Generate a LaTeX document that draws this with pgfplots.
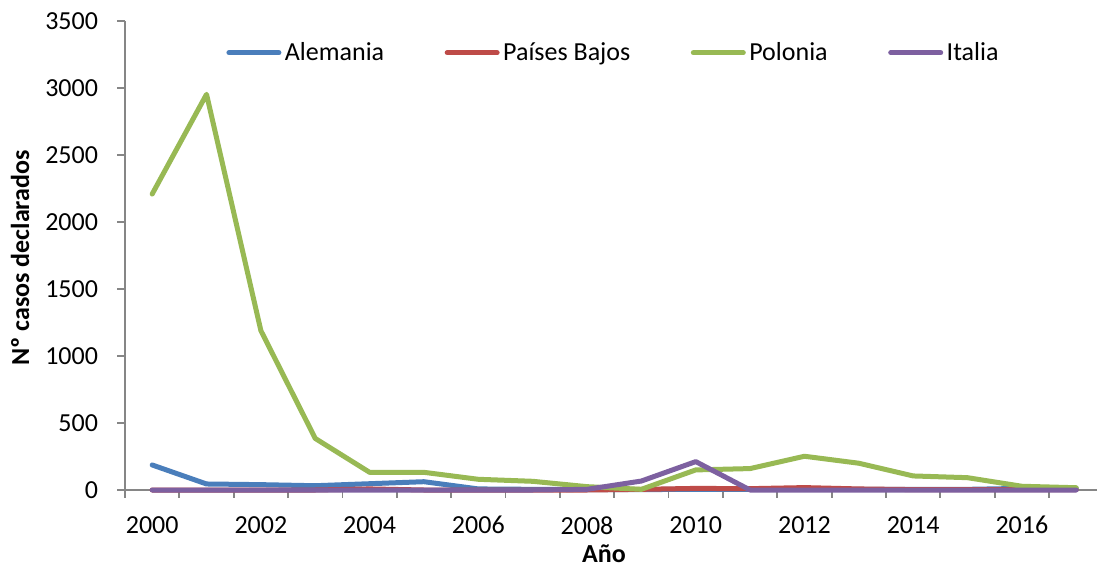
\documentclass[border=0pt]{standalone}
\usepackage{fontspec}
\setmainfont{Carlito}
\usepackage{pgfplots}
\pgfplotsset{compat=1.18}
\definecolor{cAle}{HTML}{4A7EBB}
\definecolor{cPai}{HTML}{BE4B48}
\definecolor{cPol}{HTML}{98B954}
\definecolor{cIta}{HTML}{7D60A0}
\definecolor{axgray}{HTML}{868686}
\begin{document}
\begin{tikzpicture}
\useasboundingbox (0,0) rectangle (548.5pt,284.5pt);
\begin{axis}[
  at={(62.5pt,39.5pt)}, anchor=south west,
  scale only axis, width=489.2pt, height=234.35pt,
  xmin=1999.5, xmax=2017.5, ymin=0, ymax=3500,
  axis x line=bottom, axis y line=left,
  axis line style={draw=axgray, line width=0.9pt, -},
  tick style={draw=axgray, line width=0.9pt},
  tick align=outside, major tick length=3.8pt,
  xtick={1999.5,2000.5,...,2017.5}, xticklabels={},
  extra x ticks={2000,2002,...,2016},
  extra x tick labels={2000,2002,2004,2006,2008,2010,2012,2014,2016},
  extra x tick style={major tick length=0pt},
  ytick={0,500,...,3500},
  /pgf/number format/1000 sep={},
  /pgf/number format/assume math mode=true,
  tick label style={font=\fontsize{13}{15}\selectfont, text=black},
  yticklabel style={anchor=east, inner sep=0pt, xshift=-9.5pt},
  xticklabel style={anchor=north, inner sep=0pt, yshift=-13pt},
  xlabel={\textbf{Año}}, ylabel={\textbf{Nº casos declarados}},
  every axis x label/.style={at={(axis description cs:0.4896,-0.137)}, anchor=center, font=\fontsize{13}{15}\selectfont},
  every axis y label/.style={at={(axis description cs:-0.1073,0.495)}, anchor=center, rotate=90, font=\fontsize{13}{15}\selectfont},
  legend style={at={(axis cs:2001.32,3265)}, anchor=west, draw=none, fill=none,
    inner sep=0pt, outer sep=0pt, nodes={inner sep=0pt, outer sep=0pt},
    font=\fontsize{13}{15}\selectfont,
    /tikz/every odd column/.append style={column sep=0.5pt},
    /tikz/every even column/.append style={column sep=29pt}},
  legend columns=-1,
  legend image code/.code={\path (0pt,0pt) (27.5pt,0pt);\draw[#1, line cap=round] (1.25pt,0pt) -- (26.25pt,0pt);},
  every axis plot/.append style={line width=2.5pt, line join=round, line cap=round, mark=none},
  clip=false,
]
\addplot[cAle] coordinates {(2000,187)(2001,45)(2002,40)(2003,32)(2004,47)(2005,62)(2006,8)(2007,5)(2008,3)(2009,3)(2010,5)(2011,5)(2012,5)(2013,5)(2014,5)(2015,5)(2016,12)(2017,12)};
\addlegendentry{Alemania}
\addplot[cPai] coordinates {(2000,0)(2001,0)(2002,0)(2003,0)(2004,8)(2005,0)(2006,0)(2007,0)(2008,0)(2009,5)(2010,12)(2011,10)(2012,18)(2013,8)(2014,3)(2015,2)(2016,2)(2017,2)};
\addlegendentry{Países Bajos}
\addplot[cPol] coordinates {(2000,2210)(2001,2955)(2002,1190)(2003,385)(2004,132)(2005,132)(2006,80)(2007,65)(2008,25)(2009,5)(2010,150)(2011,160)(2012,252)(2013,200)(2014,105)(2015,92)(2016,28)(2017,17)};
\addlegendentry{Polonia}
\addplot[cIta] coordinates {(2000,0)(2001,0)(2002,0)(2003,0)(2004,0)(2005,0)(2006,0)(2007,0)(2008,5)(2009,67)(2010,212)(2011,0)(2012,0)(2013,0)(2014,0)(2015,0)(2016,0)(2017,0)};
\addlegendentry{Italia}
\end{axis}
\end{tikzpicture}
\end{document}
